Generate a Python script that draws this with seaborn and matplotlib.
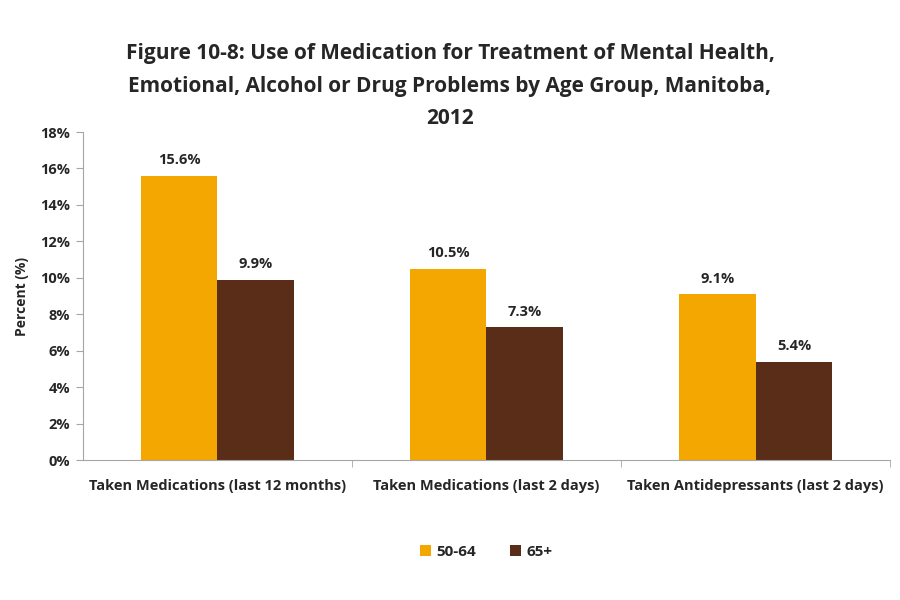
import pandas as pd
import numpy as np
import matplotlib.pyplot as plt
import seaborn as sns
from matplotlib.ticker import FuncFormatter, FixedLocator

# =====================================
# Data
# =====================================

categories = [
    "Taken Medications (last 12 months)",
    "Taken Medications (last 2 days)",
    "Taken Antidepressants (last 2 days)",
]
age_groups = ["50-64", "65+"]
values_50_64 = [15.6, 10.5, 9.1]
values_65 = [9.9, 7.3, 5.4]

df = pd.DataFrame({
    "category": categories * 2,
    "age": [age_groups[0]] * 3 + [age_groups[1]] * 3,
    "percent": values_50_64 + values_65,
})

colors = {"50-64": "#F4A700", "65+": "#592D17"}

# =====================================
# Plot
# =====================================

sns.set_style("white")
plt.rcParams["font.family"] = ["Open Sans", "DejaVu Sans"]
plt.rcParams["font.weight"] = "bold"

fig = plt.figure(figsize=(9, 6), dpi=100)
ax = fig.add_axes([0.092, 0.233, 0.897, 0.547])

sns.barplot(
    data=df, x="category", y="percent", hue="age",
    order=categories, hue_order=age_groups,
    palette=colors, width=0.57, saturation=1, linewidth=0, ax=ax,
)

for container in ax.containers:
    ax.bar_label(container, labels=[f"{v:.1f}%" for v in container.datavalues],
                 padding=6, fontsize=10.5, fontweight="bold")

ax.set_ylim(0, 18)
ax.set_xlim(-0.5, 2.5)
ax.set_yticks(np.arange(0, 19, 2))
ax.yaxis.set_major_formatter(FuncFormatter(lambda v, p: f"{v:.0f}%"))
ax.set_ylabel("Percent (%)", fontsize=10, fontweight="bold", labelpad=8)
ax.set_xlabel("")

for side in ["top", "right"]:
    ax.spines[side].set_visible(False)
for side in ["left", "bottom"]:
    ax.spines[side].set_color("#A6A6A6")

ax.tick_params(axis="y", which="major", left=True, length=5, color="#A6A6A6",
               labelsize=10.5, pad=4)
ax.tick_params(axis="x", which="major", bottom=False, labelsize=10.5, pad=10)
ax.xaxis.set_minor_locator(FixedLocator([0.5, 1.5, 2.5]))
ax.tick_params(axis="x", which="minor", bottom=True, length=5, color="#A6A6A6")
for lbl in ax.get_xticklabels() + ax.get_yticklabels():
    lbl.set_fontweight("bold")

ax.legend(loc="upper center", bbox_to_anchor=(0.5, -0.215), ncol=2, frameon=False,
          handlelength=0.7, handleheight=0.7, columnspacing=2.2,
          handletextpad=0.4, prop={"weight": "bold", "size": 11})

fig.suptitle(
    "Figure 10-8: Use of Medication for Treatment of Mental Health,\n"
    "Emotional, Alcohol or Drug Problems by Age Group, Manitoba,\n2012",
    x=0.5, y=0.928, fontsize=15, fontweight="bold", linespacing=1.72,
    family=["Open Sans", "DejaVu Sans"],
)

plt.savefig("out.png", dpi=100)
